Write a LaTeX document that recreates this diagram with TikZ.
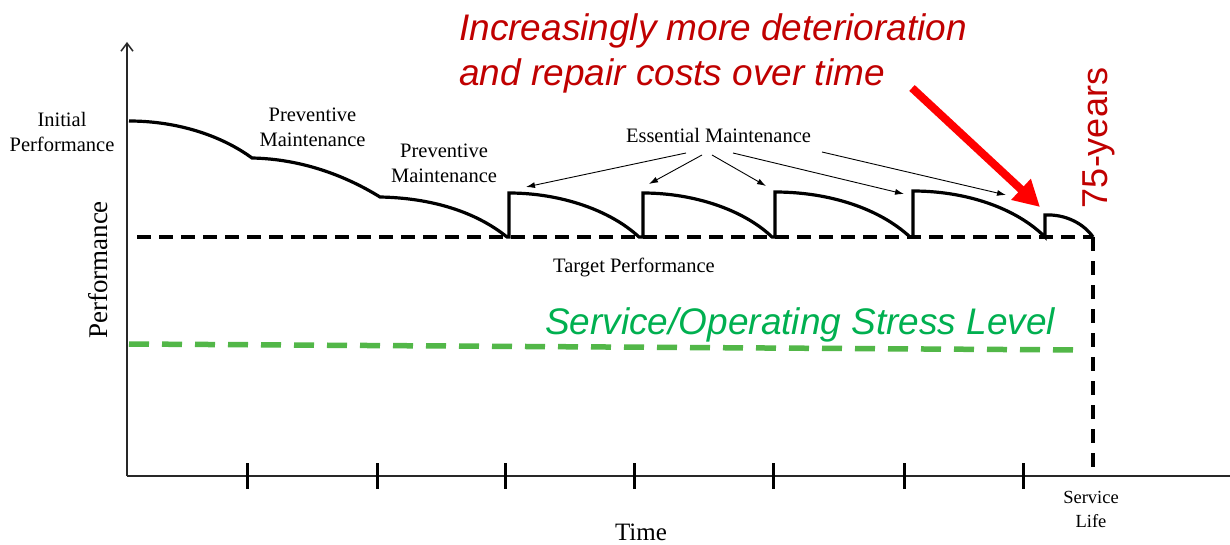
\documentclass[tikz,border=0pt]{standalone}
\usepackage{fontspec}
\setmainfont{Liberation Serif}
\newfontfamily\arialfont{Liberation Sans}
\usetikzlibrary{arrows.meta}
\definecolor{titlered}{HTML}{C00000}
\definecolor{arrowred}{HTML}{FF0000}
\definecolor{stressgreen}{HTML}{00B050}
\definecolor{dashgreen}{RGB}{82,183,72}
\definecolor{axisgray}{RGB}{40,40,40}
\begin{document}
\begin{tikzpicture}[x=1pt,y=-1pt,
  axis/.style={draw=axisgray,line width=1.5pt},
  tick/.style={draw=black,line width=3pt},
  perf/.style={draw=black,line width=3.2pt,line join=miter},
  target/.style={draw=black,line width=3.4pt,dash pattern=on 14pt off 8pt},
  lifeline/.style={draw=black,line width=3.4pt,dash pattern=on 14pt off 10pt},
  stressline/.style={draw=dashgreen,line width=5.5pt,dash pattern=on 20pt off 13pt},
  lbl/.style={font=\fontsize{20.5}{25}\selectfont,align=center,inner sep=0pt},
  thinarrow/.style={draw=black,line width=0.9pt,-{Latex[length=9pt,width=6pt]}},
  redarrow/.style={draw=arrowred,line width=8pt,-{Triangle[length=26pt,width=27pt]}},
  bigred/.style={font=\arialfont\itshape\fontsize{37}{45}\selectfont,text=titlered,inner sep=0pt},
]
\useasboundingbox (0,0) rectangle (1230,545);
\fill[white] (0,0) rectangle (1230,545);

% axes
\coordinate (origin) at (127,476);
\coordinate (ytop) at (127,42);
\coordinate (xend) at (1230,476);
\draw[axis,-{Straight Barb[length=8pt,width=12pt]}] (origin) -- (ytop);
\draw[axis] (origin) -- (xend);
\foreach \x in {247,377,505,634,773,904,1023}
  \draw[tick] (\x,463) -- (\x,489);

% target and service life lines
\coordinate (t0) at (137,237);
\coordinate (t1) at (1093,237);
\coordinate (s1) at (1093,468);
\draw[target] (t0) -- (t1);
\draw[lifeline] (t1) -- (s1);

% stress level line
\coordinate (g0) at (129,344);
\coordinate (g1) at (1083,350);
\draw[stressline] (g0) -- (g1);

% performance curve
\coordinate (p0) at (129,121);
\coordinate (p1) at (252,158);
\coordinate (p2) at (380,197);
\coordinate (p3) at (507,237);
\draw[perf] (p0) .. controls (178,121) and (222,136) .. (p1)
  .. controls (302,159) and (346,176) .. (p2)
  .. controls (432,198) and (476,212) .. (p3)
  -- (509,237) -- (509,193)
  .. controls (560,193) and (610,210) .. (639,237)
  -- (643,237) -- (643,193)
  .. controls (694,193) and (744,210) .. (772,237)
  -- (775,237) -- (775,192)
  .. controls (830,192) and (880,209) .. (910,237)
  -- (913,237) -- (913,191)
  .. controls (966,191) and (1016,208) .. (1045,237)
  -- (1045,215)
  .. controls (1066,214) and (1084,224) .. (t1);

% labels
\node[lbl] (init) at (62,131.5) {Initial\\Performance};
\node[lbl] (pm1) at (312.5,127.5) {Preventive\\Maintenance};
\node[lbl] (pm2) at (444,163) {Preventive\\Maintenance};
\node[lbl,anchor=base] (em) at (718.5,143) {Essential Maintenance};
\node[lbl,anchor=base] (tp) at (634,272) {Target Performance};
\node[lbl,font=\fontsize{18.5}{24}\selectfont] (sl) at (1091,509) {Service\\Life};
\node[inner sep=0pt,anchor=base,font=\fontsize{25}{30}\selectfont] (time) at (641,540) {Time};
\node[inner sep=0pt,anchor=base,rotate=90,font=\fontsize{27}{30}\selectfont] (perfax) at (107,270) {Performance};

% essential maintenance arrows
\coordinate (e1) at (686,153);
\coordinate (e2) at (702,155);
\coordinate (e3) at (712,155);
\coordinate (e4) at (733,153);
\coordinate (e5) at (822,152);
\coordinate (f1) at (526,187);
\coordinate (f2) at (649,184);
\coordinate (f3) at (766,186);
\coordinate (f4) at (904,194);
\coordinate (f5) at (1006,195);
\draw[thinarrow] (e1) -- (f1);
\draw[thinarrow] (e2) -- (f2);
\draw[thinarrow] (e3) -- (f3);
\draw[thinarrow] (e4) -- (f4);
\draw[thinarrow] (e5) -- (f5);

% red annotation
\node[bigred,anchor=base west] (title1) at (459,41) {Increasingly more deterioration};
\node[bigred,anchor=base west] (title2) at (459,86) {and repair costs over time};
\coordinate (ra0) at (912,88);
\coordinate (ra1) at (1040,207);
\draw[redarrow] (ra0) -- (ra1);
\node[inner sep=0pt,anchor=base,rotate=90,text=titlered,font=\arialfont\fontsize{36}{40}\selectfont] (yrs) at (1107,138) {75-years};

% green label
\node[inner sep=0pt,anchor=base west,text=stressgreen,font=\arialfont\itshape\fontsize{37}{44}\selectfont] (stress) at (545,334) {Service/Operating Stress Level};
\end{tikzpicture}
\end{document}
